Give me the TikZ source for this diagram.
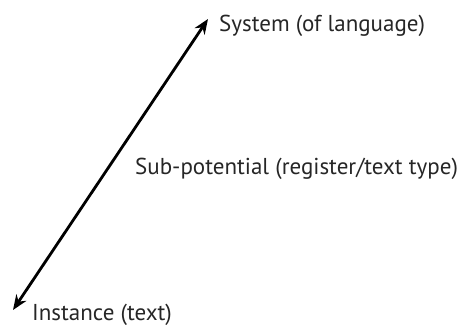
\documentclass[tikz,border=0pt]{standalone}
\usepackage{fontspec}
\setmainfont{PT Sans}
\usetikzlibrary{arrows.meta}
\begin{document}
\begin{tikzpicture}[x=1pt,y=-1pt,
  lbl/.style={anchor=base west,inner sep=0pt,font=\fontsize{23}{27}\selectfont,text=black!85},
  axis/.style={line width=2.8pt,{Stealth[length=15pt,width=12pt]}-{Stealth[length=15pt,width=12pt]}}]
  \useasboundingbox (0,0) rectangle (466,328);
  \coordinate (inst) at (13,310);
  \coordinate (sys) at (208,19);
  \draw[axis] (inst) -- (sys);
  \node[lbl] (system) at (219,32) {System (of language)};
  \node[lbl] (sub) at (135,175) {Sub-potential (register/text type)};
  \node[lbl] (instance) at (32,321) {Instance (text)};
\end{tikzpicture}
\end{document}
